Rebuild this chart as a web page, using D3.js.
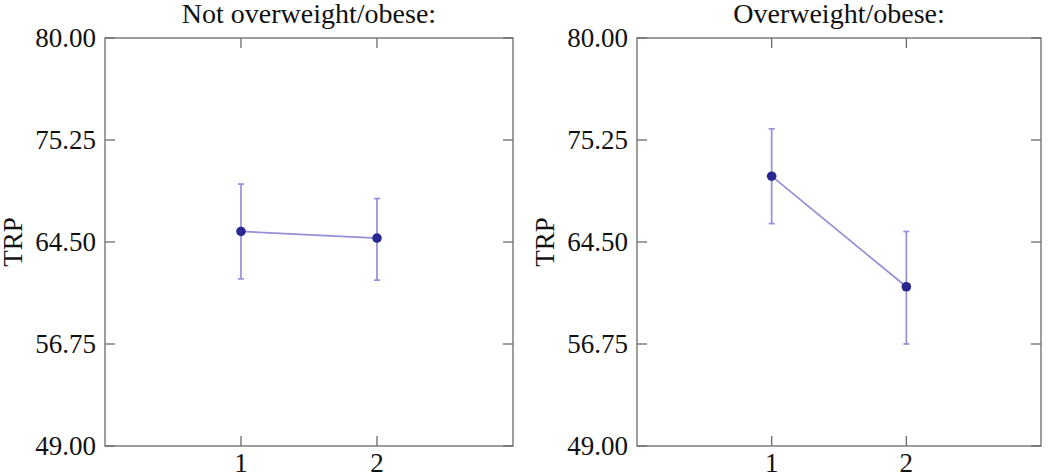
<!DOCTYPE html>
<html>
<head>
<meta charset="utf-8">
<script src="https://cdn.jsdelivr.net/npm/d3@7"></script>
<style>
  body { margin: 0; background: #fff; }
  svg text { font-family: "Liberation Serif", "DejaVu Serif", serif; fill: #111; }
</style>
</head>
<body>
<svg id="chart" width="1050" height="473"></svg>
<script>
// data
const groups = ["1", "2"];
const panelTitles = ["Not overweight/obese:", "Overweight/obese:"];
const meansNotOver = [65.3, 64.8];
const lowNotOver = [61.7, 61.6];
const highNotOver = [68.9, 67.8];
const meansOver = [69.5, 61.1];
const lowOver = [65.9, 56.75];
const highOver = [73.1, 65.3];
const yTickValues = [49, 56.75, 64.5, 72.25, 80];
const yTickLabels = ["49.00", "56.75", "64.50", "75.25", "80.00"];

const svg = d3.select("#chart");
const axisColor = "#6b6b6b";
const lineColor = "#948fd8";
const dotColor = "#28278f";
const fontSize = 27;

const panels = [
  {title: panelTitles[0], means: meansNotOver, low: lowNotOver, high: highNotOver, x0: 105, x1: 513},
  {title: panelTitles[1], means: meansOver, low: lowOver, high: highOver, x0: 637, x1: 1041}
];
const plotTop = 38, plotBottom = 446;

panels.forEach(p => {
  const x = d3.scaleLinear().domain([0, 3]).range([p.x0, p.x1]);
  const y = d3.scaleLinear().domain([49, 80]).range([plotBottom, plotTop]);
  const g = svg.append("g");

  // frame
  g.append("rect")
      .attr("x", p.x0).attr("y", plotTop)
      .attr("width", p.x1 - p.x0).attr("height", plotBottom - plotTop)
      .attr("fill", "none").attr("stroke", axisColor).attr("stroke-width", 1.3);

  const tickLen = 10;
  const yi = d3.range(yTickValues.length);
  // inner y ticks, both sides
  g.selectAll("line.yl").data(yi).join("line")
      .attr("x1", p.x0).attr("x2", p.x0 + tickLen)
      .attr("y1", i => y(yTickValues[i])).attr("y2", i => y(yTickValues[i]))
      .attr("stroke", axisColor).attr("stroke-width", 1.3);
  g.selectAll("line.yr").data(yi).join("line")
      .attr("x1", p.x1).attr("x2", p.x1 - tickLen)
      .attr("y1", i => y(yTickValues[i])).attr("y2", i => y(yTickValues[i]))
      .attr("stroke", axisColor).attr("stroke-width", 1.3);
  g.selectAll("text.yt").data(yi).join("text")
      .attr("x", p.x0 - 9).attr("y", i => y(yTickValues[i]))
      .attr("dy", "0.35em").attr("text-anchor", "end")
      .attr("font-size", fontSize)
      .text(i => yTickLabels[i]);

  // x ticks top & bottom
  const xi = groups.map((d, i) => i + 1);
  g.selectAll("line.xb").data(xi).join("line")
      .attr("x1", d => x(d)).attr("x2", d => x(d))
      .attr("y1", plotBottom).attr("y2", plotBottom - tickLen)
      .attr("stroke", axisColor).attr("stroke-width", 1.3);
  g.selectAll("line.xt").data(xi).join("line")
      .attr("x1", d => x(d)).attr("x2", d => x(d))
      .attr("y1", plotTop).attr("y2", plotTop + tickLen)
      .attr("stroke", axisColor).attr("stroke-width", 1.3);
  g.selectAll("text.xt").data(groups).join("text")
      .attr("x", (d, i) => x(i + 1)).attr("y", plotBottom + 26)
      .attr("text-anchor", "middle").attr("font-size", fontSize)
      .text(d => d);

  // title & y label
  g.append("text")
      .attr("x", (p.x0 + p.x1) / 2).attr("y", 23)
      .attr("text-anchor", "middle").attr("font-size", 28)
      .text(p.title);
  g.append("text")
      .attr("transform", `translate(${p.x0 - 83},${(plotTop + plotBottom) / 2}) rotate(-90)`)
      .attr("text-anchor", "middle").attr("font-size", fontSize)
      .text("TRP");

  // error bars
  const eb = g.selectAll("g.eb").data(p.means).join("g");
  eb.append("line")
      .attr("x1", (d, i) => x(i + 1)).attr("x2", (d, i) => x(i + 1))
      .attr("y1", (d, i) => y(p.low[i])).attr("y2", (d, i) => y(p.high[i]))
      .attr("stroke", lineColor).attr("stroke-width", 1.7);
  ["low", "high"].forEach(k => {
    eb.append("line")
        .attr("x1", (d, i) => x(i + 1) - 3).attr("x2", (d, i) => x(i + 1) + 3)
        .attr("y1", (d, i) => y(p[k][i])).attr("y2", (d, i) => y(p[k][i]))
        .attr("stroke", lineColor).attr("stroke-width", 1.7);
  });

  // connecting line
  g.append("path")
      .datum(p.means)
      .attr("fill", "none").attr("stroke", lineColor).attr("stroke-width", 1.7)
      .attr("d", d3.line().x((d, i) => x(i + 1)).y(d => y(d)));

  g.selectAll("circle").data(p.means).join("circle")
      .attr("cx", (d, i) => x(i + 1)).attr("cy", d => y(d))
      .attr("r", 4.8).attr("fill", dotColor);
});
</script>
</body>
</html>
